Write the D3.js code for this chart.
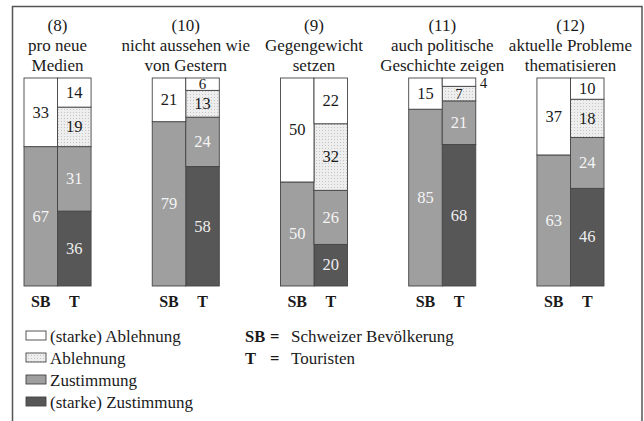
<!DOCTYPE html>
<html><head><meta charset="utf-8">
<script src="https://cdn.jsdelivr.net/npm/d3@7"></script>
<style>
html,body{margin:0;padding:0;background:#fff;}
svg, svg text{font-family:"Liberation Serif","Times New Roman",Times,"DejaVu Serif",serif;}
</style></head>
<body>
<svg id="chart" width="644" height="421" font-family="Liberation Serif, Times New Roman, serif"></svg>
<script>
// ---- data ----
const groupIds = ["(8)", "(10)", "(9)", "(11)", "(12)"];
const titleLine1 = ["pro neue", "nicht aussehen wie", "Gegengewicht", "auch politische", "aktuelle Probleme"];
const titleLine2 = ["Medien", "von Gestern", "setzen", "Geschichte zeigen", "thematisieren"];
const respondents = ["SB", "T"];
const categories = ["(starke) Ablehnung", "Ablehnung", "Zustimmung", "(starke) Zustimmung"];
// Schweizer Bevölkerung (SB)
const sbAblehnung = [33, 21, 50, 15, 37];
const sbZustimmung = [67, 79, 50, 85, 63];
// Touristen (T)
const tStarkeAblehnung = [14, 6, 22, 4, 10];
const tAblehnung = [19, 13, 32, 7, 18];
const tZustimmung = [31, 24, 26, 21, 24];
const tStarkeZustimmung = [36, 58, 20, 68, 46];
const legendKey = [["SB", "Schweizer Bevölkerung"], ["T", "Touristen"]];

// ---- rows ----
const rows = [];
groupIds.forEach((g, i) => {
  rows.push({group: g, who: "SB", "(starke) Ablehnung": sbAblehnung[i], "Ablehnung": 0, "Zustimmung": sbZustimmung[i], "(starke) Zustimmung": 0});
  rows.push({group: g, who: "T", "(starke) Ablehnung": tStarkeAblehnung[i], "Ablehnung": tAblehnung[i], "Zustimmung": tZustimmung[i], "(starke) Zustimmung": tStarkeZustimmung[i]});
});

const FONT = "Liberation Serif, Times New Roman, DejaVu Serif, serif";
const svg = d3.select("#chart");
const defs = svg.append("defs");
const pat = defs.append("pattern").attr("id", "dots").attr("width", 3).attr("height", 3).attr("patternUnits", "userSpaceOnUse");
pat.append("rect").attr("width", 3).attr("height", 3).attr("fill", "#eeeeee");
pat.append("rect").attr("x", 1).attr("y", 1).attr("width", 1).attr("height", 1).attr("fill", "#c4c4c4");

const fillScale = d3.scaleOrdinal().domain(categories).range(["#ffffff", "url(#dots)", "#9f9f9f", "#575757"]);
const textScale = d3.scaleOrdinal().domain(categories).range(["#1a1a1a", "#1a1a1a", "#f4f4f4", "#eeeeee"]);

// frame
svg.append("path").attr("d", "M12.5,421V6.5H642V421").attr("fill", "none").attr("stroke", "#555").attr("stroke-width", 1.5);

const x0 = d3.scaleBand().domain(groupIds).range([24, 604]).paddingInner(0.477).paddingOuter(0);
const x1 = d3.scaleBand().domain(respondents).range([0, x0.bandwidth()]).padding(0);
const y = d3.scaleLinear().domain([0, 1]).range([286, 78]);

const stackKeys = categories.slice().reverse(); // bottom to top
const series = d3.stack().keys(stackKeys).offset(d3.stackOffsetExpand)(rows);

const gBars = svg.append("g");
series.forEach(s => {
  s.forEach((seg, j) => {
    const r = rows[j];
    const v = r[s.key];
    if (!v) return;
    const bx = x0(r.group) + x1(r.who);
    const y0 = y(seg[0]), yTop = y(seg[1]);
    gBars.append("rect")
      .attr("x", bx).attr("y", yTop)
      .attr("width", x1.bandwidth()).attr("height", y0 - yTop)
      .attr("fill", fillScale(s.key)).attr("stroke", "#444").attr("stroke-width", 0.9);
    const h = y0 - yTop;
    const t = gBars.append("text").text(v).attr("font-size", h < 16 ? 15 : 16.5).attr("font-family", FONT);
    if (h < 10) {
      t.attr("x", bx + x1.bandwidth() + 4).attr("y", yTop + 10).attr("fill", "#1a1a1a");
    } else {
      t.attr("x", bx + x1.bandwidth() / 2).attr("y", (y0 + yTop) / 2 + 1.5)
        .attr("text-anchor", "middle").attr("dominant-baseline", "middle")
        .attr("fill", textScale(s.key));
    }
  });
});

// titles
groupIds.forEach((g, i) => {
  const cx = x0(g) + x0.bandwidth() / 2;
  const t = svg.append("text").attr("text-anchor", "middle").attr("font-size", 17).attr("fill", "#1a1a1a").attr("font-family", FONT);
  t.append("tspan").attr("x", cx).attr("y", 31).text(g);
  t.append("tspan").attr("x", cx).attr("y", 51).text(titleLine1[i]);
  t.append("tspan").attr("x", cx).attr("y", 71).text(titleLine2[i]);
  respondents.forEach(w => {
    svg.append("text").attr("x", x0(g) + x1(w) + x1.bandwidth() / 2).attr("y", 307)
      .attr("text-anchor", "middle").attr("font-weight", "bold").attr("font-size", 16)
      .attr("font-family", FONT).attr("fill", "#1a1a1a").text(w);
  });
});

// legend
const legY = d3.scalePoint().domain(categories).range([342, 408]);
categories.forEach(c => {
  const by = legY(c);
  svg.append("rect").attr("x", 26).attr("y", by - 11).attr("width", 20).attr("height", 9)
    .attr("fill", fillScale(c)).attr("stroke", "#444").attr("stroke-width", 0.9);
  svg.append("text").attr("x", 50).attr("y", by).attr("font-size", 17).attr("font-family", FONT).attr("fill", "#1a1a1a").text(c);
});
legendKey.forEach((k, i) => {
  const by = legY(categories[i]);
  svg.append("text").attr("x", 245).attr("y", by).attr("font-size", 16.5).attr("font-weight", "bold").attr("font-family", FONT).attr("fill", "#1a1a1a").text(k[0]);
  svg.append("text").attr("x", 270).attr("y", by).attr("font-size", 16.5).attr("font-weight", "bold").attr("font-family", FONT).attr("fill", "#1a1a1a").text("=");
  svg.append("text").attr("x", 291).attr("y", by).attr("font-size", 17).attr("font-family", FONT).attr("fill", "#1a1a1a").text(k[1]);
});
</script>
</body></html>
